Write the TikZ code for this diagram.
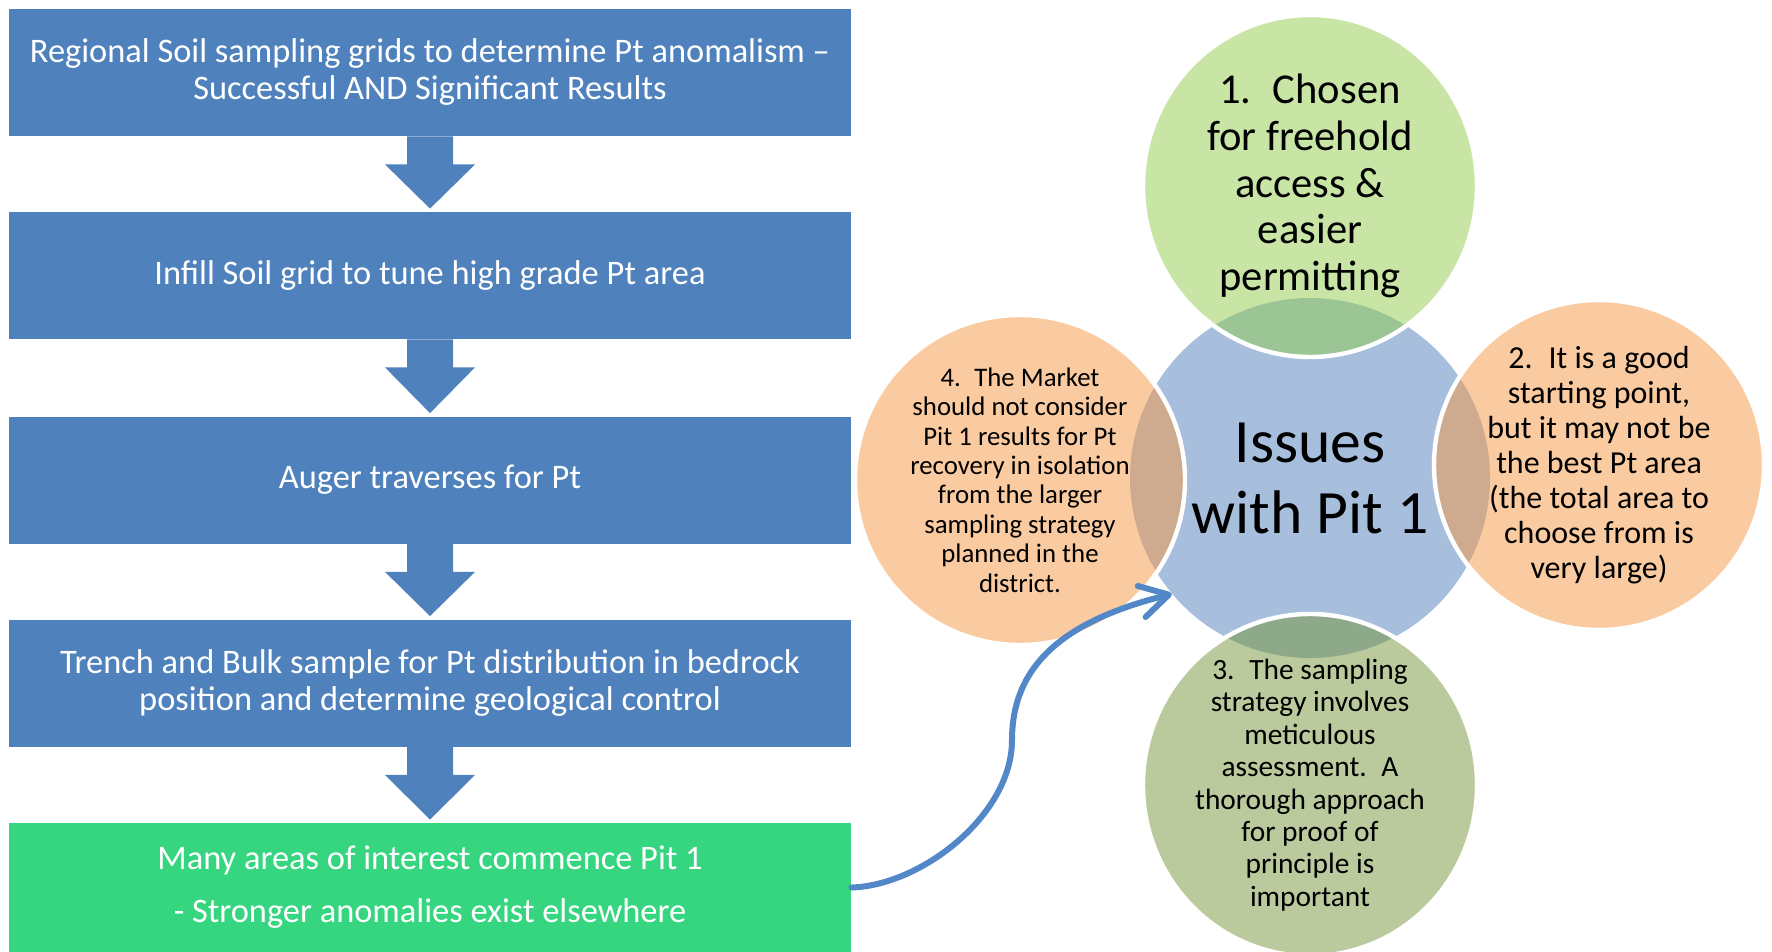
\documentclass[tikz,border=0pt]{standalone}
\usepackage{fontspec}
\setmainfont{Carlito}
\usepackage{tikz}
\usetikzlibrary{calc,arrows.meta,shapes.geometric}
\definecolor{flow}{HTML}{4F81BD}
\definecolor{pitgreen}{HTML}{35D67F}
\definecolor{hubblue}{HTML}{A7BFDD}
\definecolor{peach}{HTML}{F59743}
\definecolor{leaf}{HTML}{91CB4D}
\definecolor{olive}{HTML}{779539}
\definecolor{link}{HTML}{5388C8}
\tikzset{
  stage/.style={fill=flow, text=white, minimum width=421pt, minimum height=63.5pt, inner sep=0pt, align=center, font=\fontsize{17.2}{18.5}\selectfont},
  drop/.style={fill=flow},
  hub/.style={circle, fill=hubblue, minimum size=180pt, inner sep=0pt},
  petal/.style={circle, draw=white, line width=2.2pt, fill opacity=0.5, minimum size=165pt, inner sep=0pt},
  bigpetal/.style={petal, ellipse, minimum width=167pt, minimum height=171pt},
  ptext/.style={text=black, align=center, inner sep=0pt},
  link/.style={draw=link, line width=3pt, line cap=round, -{Straight Barb[length=14pt,width=16pt,round]}},
}
\begin{document}
\begin{tikzpicture}[x=0.5pt,y=-0.5pt]
  \useasboundingbox (0,0) rectangle (1772,952);
  \node[stage] (s1) at (430,72.5) {Regional Soil sampling grids to determine Pt anomalism --\\Successful AND Significant Results};
  \node[stage] (s2) at (430,275.5) {Infill Soil grid to tune high grade Pt area};
  \node[stage] (s3) at (430,480) {Auger traverses for Pt};
  \node[stage] (s4) at (430,683) {Trench and Bulk sample for Pt distribution in bedrock\\position and determine geological control};
  \node[stage, fill=pitgreen, minimum height=64.5pt] (s5) at (430,887.5) {Many areas of interest commence Pit 1\\[8pt]- Stronger anomalies exist elsewhere};
  \foreach \a/\b in {s1/s2,s2/s3,s3/s4,s4/s5}{
    \fill[drop] ($(\a.south)+(-23,0)$) -- ++(0,28) -- ++(-22,0) -- ($(\b.north)+(0,-3)$)
      -- ($(\a.south)+(45,28)$) -- ++(-22,0) -- ($(\a.south)+(23,0)$) -- cycle;
  }

  \node[hub] (issues) at (1310,478) {};
  \node[bigpetal, fill=leaf] (one) at (1310,186) {};
  \node[petal, fill=peach] (two) at (1599,465) {};
  \node[bigpetal, fill=olive] (three) at (1310,785) {};
  \node[petal, fill=peach] (four) at (1020,480) {};

  \node[ptext, font=\fontsize{30.8}{35.5}\selectfont] (issues-t) at (issues) {Issues\\with Pit 1};
  \node[ptext, font=\fontsize{21.3}{23.3}\selectfont] (one-t) at (one) {1.\enspace Chosen\\for freehold\\access \&\\easier\\permitting};
  \node[ptext, font=\fontsize{16}{17.5}\selectfont] (two-t) at (two) {2.\enspace It is a good\\starting point,\\but it may not be\\the best Pt area\\(the total area to\\choose from is\\very large)};
  \node[ptext, font=\fontsize{14.7}{16.2}\selectfont] (three-t) at (three) {3.\enspace The sampling\\strategy involves\\meticulous\\assessment.\enspace A\\thorough approach\\for proof of\\principle is\\important};
  \node[ptext, font=\fontsize{13.4}{14.7}\selectfont] (four-t) at (four) {4.\enspace The Market\\should not consider\\Pit 1 results for Pt\\recovery in isolation\\from the larger\\sampling strategy\\planned in the\\district.};

  \coordinate (bend) at (1012,740);
  \draw[link] (s5.east) .. controls +(70,-2) and +(0,75) .. (bend)
    .. controls +(0,-80) and +(-100,25) .. (issues.220);
\end{tikzpicture}
\end{document}
